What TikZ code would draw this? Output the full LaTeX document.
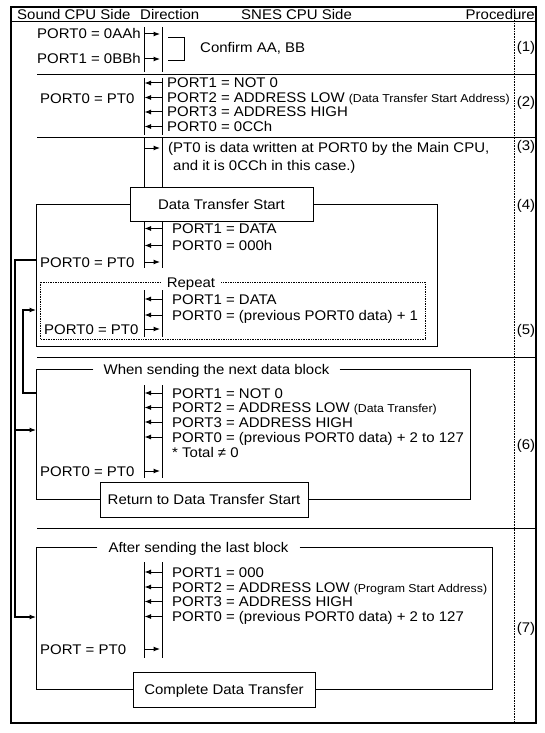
\documentclass[tikz,border=0pt]{standalone}
\usepackage{fontspec}
\setmainfont{Liberation Sans}[FakeStretch=1.07]
\usetikzlibrary{
arrows.meta,
calc,
positioning
}
\newcommand{\txtsize}{\fontsize{14}{14.5}\selectfont}
\newcommand{\smallsize}{\fontsize{11.5}{12}\selectfont}
\tikzset{
line_dir/.style={draw, line width=1pt},
line_frame/.style={draw, line width=1pt}
}

\begin{document}
\begin{tikzpicture}
[x=1pt, y=-1pt,
every node/.style={font=\txtsize},
txt/.style={anchor=west, inner sep=0pt, text height=10pt, text depth=0pt},
txt_proc/.style={inner sep=0pt, text height=10pt, text depth=0pt},
block_normal/.style={rectangle, draw, line width=1pt, fill=white, text centered, minimum height=34pt, text height=10pt, text depth=0pt},
block_label/.style={fill=white, inner xsep=10pt, inner ysep=0pt, text height=10pt, text depth=0pt},
tip/.style={-{Latex[length=6.5pt, width=5pt]}},
line_in/.style={line_dir, tip, shorten >=0.5pt},
line_out/.style={line_dir, tip, shorten >=2pt},
line_loop/.style={draw, line width=1.1pt, tip}
]

\useasboundingbox (0,0) rectangle (544,733);

%%%%%FRAME%%%%%
\draw[line width=1.3pt] (11,7) rectangle (536,723);
\draw[line_frame] (11,22) -- (536,22);
\draw[densely dotted, line width=0.6pt] (514,7) -- (514,723);
\draw[line_frame] (37,75) -- (536,75);
\draw[line_frame] (37,137) -- (536,137);
\draw[line_frame] (37,357) -- (536,357);
\draw[line_frame] (37,528) -- (536,528);

%%%%%HEADER%%%%%
\node[txt] (h_sound) at (17,15) {Sound CPU Side};
\node[txt] (h_dir) at (140,15) {Direction};
\node[txt] (h_snes) at (241,15) {SNES CPU Side};
\node[txt, anchor=east] (h_proc) at (535,15) {Procedure};

\node[txt_proc] (n1) at (526,47) {(1)};
\node[txt_proc] (n2) at (526,102) {(2)};
\node[txt_proc] (n3) at (526,145) {(3)};
\node[txt_proc] (n4) at (526,204) {(4)};
\node[txt_proc] (n5) at (526,329) {(5)};
\node[txt_proc] (n6) at (526,444) {(6)};
\node[txt_proc] (n7) at (526,627) {(7)};

%%%%%ROW 1%%%%%
\node[txt] (p1a) at (37,34) {PORT0 = 0AAh};
\node[txt] (p1b) at (37,59) {PORT1 = 0BBh};
\node[txt] (confirm) at (200,48) {Confirm AA, BB};
\coordinate (l1) at (144,27);
\coordinate (r1) at (162,27);
\draw[line_dir] (l1) -- ++(0,45);
\draw[line_dir] (r1) -- ++(0,45);
\draw[line_out] (l1 |- p1a) -- (r1 |- p1a);
\draw[line_out] (l1 |- p1b) -- (r1 |- p1b);
\draw[line_dir] (168,38) -- (184,38) -- (184,61) -- (168,61);

%%%%%ROW 2%%%%%
\node[txt] (p2) at (40,98) {PORT0 = PT0};
\node[txt] (p2a) at (167,83) {PORT1 = NOT 0};
\node[txt] (p2b) at (167,97.5) {PORT2 = ADDRESS LOW {\smallsize(Data Transfer Start Address)}};
\node[txt] (p2c) at (167,112) {PORT3 = ADDRESS HIGH};
\node[txt] (p2d) at (167,126.5) {PORT0 = 0CCh};
\coordinate (l2) at (144,78);
\coordinate (r2) at (162,78);
\draw[line_dir] (l2) -- ++(0,57);
\draw[line_dir] (r2) -- ++(0,57);
\draw[line_in] (r2 |- p2a) -- (l2 |- p2a);
\draw[line_in] (r2 |- p2b) -- (l2 |- p2b);
\draw[line_in] (r2 |- p2c) -- (l2 |- p2c);
\draw[line_in] (r2 |- p2d) -- (l2 |- p2d);

%%%%%ROW 3%%%%%
\node[txt] (p3a) at (168,148) {(PT0 is data written at PORT0 by the Main CPU,};
\node[txt] (p3b) at (168,165) {\hphantom{(}and it is 0CCh in this case.)};
\coordinate (l3) at (144,137);
\coordinate (r3) at (162,137);
\draw[line_dir] (l3) -- ++(0,51);
\draw[line_dir] (r3) -- ++(0,51);
\draw[line_out] (l3 |- p3a) -- (r3 |- p3a);

%%%%%ROW 4 + 5%%%%%
\node[block_normal, minimum width=183pt] (start4) at (221.5,204.5) {Data Transfer Start};
\draw[line_frame] (start4.east) -- (437,204.5) |- (36,346) |- (start4.west);
\node[txt] (p4a) at (172,228.5) {PORT1 = DATA};
\node[txt] (p4b) at (172,245.5) {PORT0 = 000h};
\node[txt] (p4) at (40,262) {PORT0 = PT0};
\coordinate (l4) at (144,221.5);
\coordinate (r4) at (162,221.5);
\draw[line_dir] (l4) -- ++(0,46);
\draw[line_dir] (r4) -- ++(0,46);
\draw[line_in] (r4 |- p4a) -- (l4 |- p4a);
\draw[line_in] (r4 |- p4b) -- (l4 |- p4b);
\draw[line_out] (l4 |- p4) -- (r4 |- p4);

%Repeat
\draw[densely dotted, line width=0.7pt] (40,282) rectangle (425,339);
\node[block_label, inner xsep=6pt] (repeat5) at (191,282) {Repeat};
\node[txt] (p5a) at (172,299) {PORT1 = DATA};
\node[txt] (p5b) at (172,315) {PORT0 = (previous PORT0 data) + 1};
\node[txt] (p5) at (44,329) {PORT0 = PT0};
\coordinate (l5) at (144,290);
\coordinate (r5) at (162,290);
\draw[line_dir] (l5) -- ++(0,47);
\draw[line_dir] (r5) -- ++(0,47);
\draw[line_in] (r5 |- p5a) -- (l5 |- p5a);
\draw[line_in] (r5 |- p5b) -- (l5 |- p5b);
\draw[line_out] (l5 |- p5) -- (r5 |- p5);

%%%%%ROW 6%%%%%
\node[block_label] (label6) at (216.5,369) {When sending the next data block};
\node[block_normal, minimum width=208pt, minimum height=35pt] (ret6) at (204,499.5) {Return to Data Transfer Start};
\draw[line_frame] (label6.east) -- (470,369) |- (ret6.east);
\draw[line_frame] (label6.west) -- (36,369) |- (ret6.west);
\node[txt] (p6a) at (172,393) {PORT1 = NOT 0};
\node[txt] (p6b) at (172,407.5) {PORT2 = ADDRESS LOW {\smallsize(Data Transfer)}};
\node[txt] (p6c) at (172,422) {PORT3 = ADDRESS HIGH};
\node[txt] (p6d) at (172,437) {PORT0 = (previous PORT0 data) + 2 to 127};
\node[txt] (p6e) at (172,452) {* Total ≠ 0};
\node[txt] (p6) at (40,471) {PORT0 = PT0};
\coordinate (l6) at (144,385);
\coordinate (r6) at (162,385);
\draw[line_dir] (l6) -- ++(0,93);
\draw[line_dir] (r6) -- ++(0,93);
\draw[line_in] (r6 |- p6a) -- (l6 |- p6a);
\draw[line_in] (r6 |- p6b) -- (l6 |- p6b);
\draw[line_in] (r6 |- p6c) -- (l6 |- p6c);
\draw[line_in] (r6 |- p6d) -- (l6 |- p6d);
\draw[line_out] (l6 |- p6) -- (r6 |- p6);

%%%%%ROW 7%%%%%
\node[block_label, inner xsep=11pt] (label7) at (198.5,547) {After sending the last block};
\node[block_normal, minimum width=182pt, minimum height=35pt] (done7) at (224,689.5) {Complete Data Transfer};
\draw[line_frame] (label7.east) -- (492,547) |- (done7.east);
\draw[line_frame] (label7.west) -- (36,547) |- (done7.west);
\node[txt] (p7a) at (172,572) {PORT1 = 000};
\node[txt] (p7b) at (172,587) {PORT2 = ADDRESS LOW {\smallsize(Program Start Address)}};
\node[txt] (p7c) at (172,601.5) {PORT3 = ADDRESS HIGH};
\node[txt] (p7d) at (172,616.5) {PORT0 = (previous PORT0 data) + 2 to 127};
\node[txt] (p7) at (40,649) {PORT = PT0};
\coordinate (l7) at (144,562);
\coordinate (r7) at (162,562);
\draw[line_dir] (l7) -- ++(0,96);
\draw[line_dir] (r7) -- ++(0,96);
\draw[line_in] (r7 |- p7a) -- (l7 |- p7a);
\draw[line_in] (r7 |- p7b) -- (l7 |- p7b);
\draw[line_in] (r7 |- p7c) -- (l7 |- p7c);
\draw[line_in] (r7 |- p7d) -- (l7 |- p7d);
\draw[line_out] (l7 |- p7) -- (r7 |- p7);

%Pfeile Schleifen
\coordinate (a_start) at (36,260);
\coordinate (a_corner) at (15,260);
\coordinate (f4_in) at (36,310);
\coordinate (f6_out) at (36,393);
\coordinate (f6_in) at (36,430);
\coordinate (f7_in) at (36,617);
\draw[line_loop] (a_start) -- (a_corner) |- (f7_in);
\draw[line_loop] (a_corner |- f6_in) -- (f6_in);
\draw[line_loop] (f6_out) -- ++(-13,0) |- (f4_in);

\end{tikzpicture}
\end{document}
